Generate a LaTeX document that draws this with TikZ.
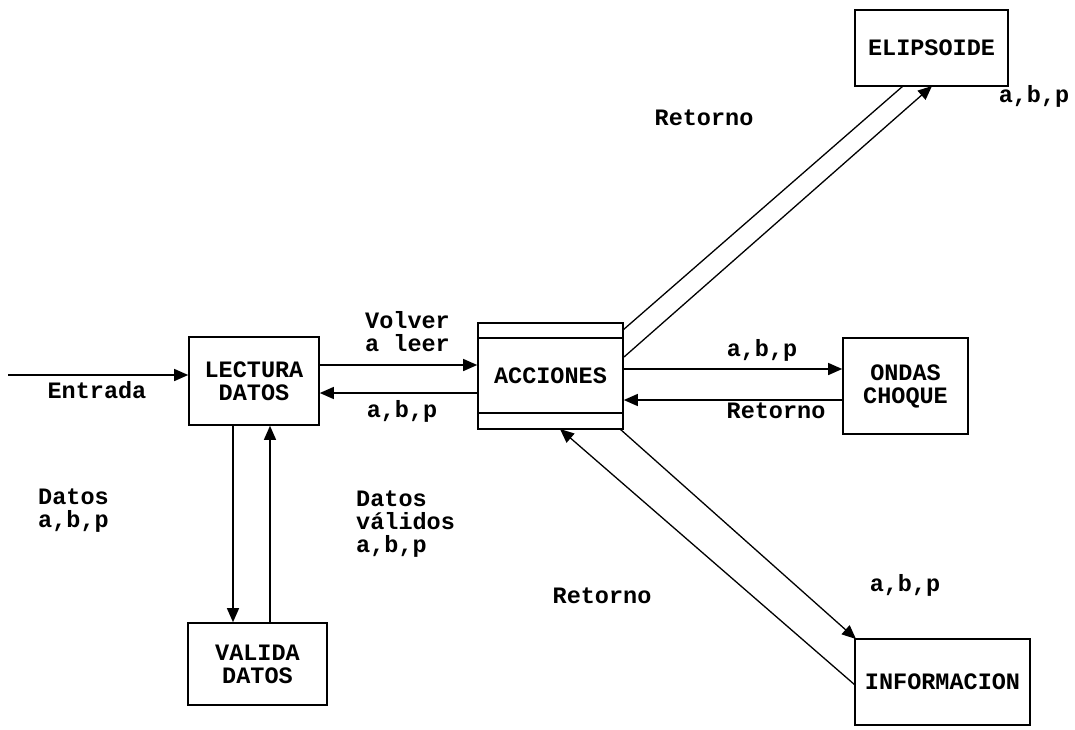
\documentclass[tikz,border=0pt]{standalone}
\usepackage{fontspec}
\setmonofont{Liberation Mono}
\usetikzlibrary{arrows.meta}
\begin{document}
\begin{tikzpicture}[x=1pt,y=-1pt,
  every node/.style={font=\ttfamily\bfseries\fontsize{23.5}{23}\selectfont, inner sep=0pt},
  procbox/.style={draw, line width=1.6pt, align=center},
  lbl/.style={align=left},
  conn/.style={line width=1.3pt},
  arr/.style={conn, -{Triangle[length=14pt,width=12pt]}}]
\useasboundingbox (0,0) rectangle (1075,729);
% boxes
\node[procbox, minimum width=130pt, minimum height=88pt] (lectura) at (254,381) {LECTURA\\DATOS};
\node[procbox, minimum width=145pt, minimum height=106pt] (acciones) at (550.5,376) {ACCIONES};
\node[procbox, minimum width=125pt, minimum height=96pt] (ondas) at (905.5,386) {ONDAS\\CHOQUE};
\node[procbox, minimum width=153pt, minimum height=76pt] (elipsoide) at (931.5,48) {ELIPSOIDE};
\node[procbox, minimum width=175pt, minimum height=86pt] (informacion) at (942.5,682) {INFORMACION};
\node[procbox, minimum width=139pt, minimum height=82pt] (valida) at (257.5,664) {VALIDA\\DATOS};
% inner lines of ACCIONES
\coordinate (aTop) at (0,338);
\coordinate (aBot) at (0,413);
\draw[line width=1.3pt] (acciones.west |- aTop) -- (acciones.east |- aTop);
\draw[line width=1.3pt] (acciones.west |- aBot) -- (acciones.east |- aBot);
% level coordinates
\coordinate (ent) at (8,375);
\coordinate (yVol) at (0,365);
\coordinate (yAbp) at (0,393);
\coordinate (yOn1) at (0,369);
\coordinate (yOn2) at (0,400);
\coordinate (xV1) at (233,0);
\coordinate (xV2) at (270,0);
% connectors
\draw[arr] (ent) -- (ent -| lectura.west);
\draw[arr] (lectura.east |- yVol) -- (acciones.west |- yVol);
\draw[arr] (acciones.west |- yAbp) -- (lectura.east |- yAbp);
\draw[arr] (acciones.east |- yOn1) -- (ondas.west |- yOn1);
\draw[arr] (ondas.west |- yOn2) -- (acciones.east |- yOn2);
\draw[arr] (lectura.south -| xV1) -- (valida.north -| xV1);
\draw[arr] (valida.north -| xV2) -- (lectura.south -| xV2);
% diagonals to ELIPSOIDE
\coordinate (e1) at (903,86);
\coordinate (e2) at (932,86);
\coordinate (a1) at (623,330);
\coordinate (a2) at (624,357);
\draw[conn] (a1) -- (e1);
\draw[arr] (a2) -- (e2);
% diagonals to INFORMACION
\coordinate (i1) at (855,685);
\coordinate (i2) at (856,639);
\coordinate (a3) at (560,429);
\coordinate (a4) at (620,429);
\draw[arr] (i1) -- (a3);
\draw[arr] (a4) -- (i2);
% labels
\node[lbl] (lEnt) at (97,390) {Entrada};
\node[lbl, anchor=north west] (lVol) at (365,311) {Volver\\a leer};
\node[lbl] (lAbp1) at (402,411) {a,b,p};
\node[lbl] (lAbp2) at (762,350) {a,b,p};
\node[lbl] (lRet1) at (776,411) {Retorno};
\node[lbl] (lRet2) at (704,118) {Retorno};
\node[lbl] (lAbp3) at (1034,96) {a,b,p};
\node[lbl, anchor=north west] (lDat) at (38,489) {Datos\\a,b,p};
\node[lbl, anchor=north west] (lDatV) at (356,491) {Datos\\válidos\\a,b,p};
\node[lbl] (lRet3) at (602,596) {Retorno};
\node[lbl] (lAbp4) at (905,585) {a,b,p};
\end{tikzpicture}
\end{document}
